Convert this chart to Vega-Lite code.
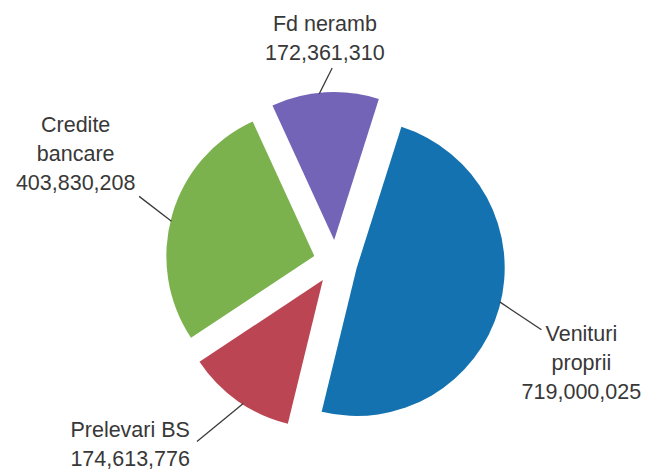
{
  "$schema": "https://vega.github.io/schema/vega-lite/v6.json",
  "width": 619,
  "height": 424,
  "autosize": "none",
  "padding": {"left": 26, "top": 50, "right": 0, "bottom": 0},
  "background": "white",
  "config": {"view": {"stroke": null}},
  "data": {
    "values": [
      {"category": "Venituri proprii", "label": "Venituri\nproprii", "value": 719000025},
      {"category": "Prelevari BS", "label": "Prelevari BS", "value": 174613776},
      {"category": "Credite bancare", "label": "Credite\nbancare", "value": 403830208},
      {"category": "Fd neramb", "label": "Fd neramb", "value": 172361310}
    ]
  },
  "transform": [
    {"window": [{"op": "row_number", "as": "idx"}]},
    {"joinaggregate": [{"op": "sum", "field": "value", "as": "total"}]},
    {"stack": "value", "groupby": [], "sort": [{"field": "idx", "order": "ascending"}], "as": ["v0", "v1"]},
    {"calculate": "0.307 + PI*(datum.v0 + datum.v1)/datum.total", "as": "m"},
    {"calculate": "datum.m + 0.117 - 0.1055*cos(datum.m) + 0.0437*sin(datum.m)", "as": "t"},
    {"calculate": "228 + 48*abs(sin(datum.t)) - 28*cos(datum.t) - 10*sin(datum.t)", "as": "r"}
  ],
  "layer": [
    {
      "mark": {
        "type": "arc",
        "outerRadius": 148,
        "xOffset": {"expr": "22*sin(datum.m)"},
        "yOffset": {"expr": "-22*cos(datum.m)"}
      },
      "encoding": {
        "theta": {"field": "value", "type": "quantitative", "stack": true, "scale": {"range": [0.307, 6.590]}},
        "order": {"field": "idx", "type": "quantitative"},
        "color": {
          "field": "category",
          "type": "nominal",
          "scale": {
            "domain": ["Venituri proprii", "Prelevari BS", "Credite bancare", "Fd neramb"],
            "range": ["#1472b0", "#bc4554", "#7bb24d", "#7464b8"]
          },
          "legend": null
        }
      }
    },
    {
      "mark": {"type": "rule", "strokeWidth": 1.3},
      "encoding": {
        "x": {"value": {"expr": "width/2 + 22*sin(datum.m) + 147*sin(datum.m - 0.04)"}},
        "y": {"value": {"expr": "height/2 - 22*cos(datum.m) - 147*cos(datum.m - 0.04)"}},
        "x2": {"value": {"expr": "width/2 + 22*sin(datum.m) + (190 - 18*cos(datum.m))*sin(datum.m + 0.05)"}},
        "y2": {"value": {"expr": "height/2 - 22*cos(datum.m) - (190 - 18*cos(datum.m))*cos(datum.m + 0.05)"}},
        "color": {"value": "#3a3a3a"}
      }
    },
    {
      "transform": [
        {"calculate": "datum.label + '\\n' + format(datum.value, ',')", "as": "fullLabel"}
      ],
      "mark": {
        "type": "text",
        "font": "Liberation Sans",
        "fontSize": 21.5,
        "align": "center",
        "baseline": "middle",
        "lineBreak": "\n",
        "lineHeight": 29,
        "xOffset": {"expr": "datum.r*sin(datum.t)"},
        "yOffset": {"expr": "-20 - datum.r*cos(datum.t) - 14.5*split(datum.label, '\\n').length"}
      },
      "encoding": {
        "text": {"field": "fullLabel", "type": "nominal"},
        "color": {"value": "#383838"}
      }
    }
  ]
}
